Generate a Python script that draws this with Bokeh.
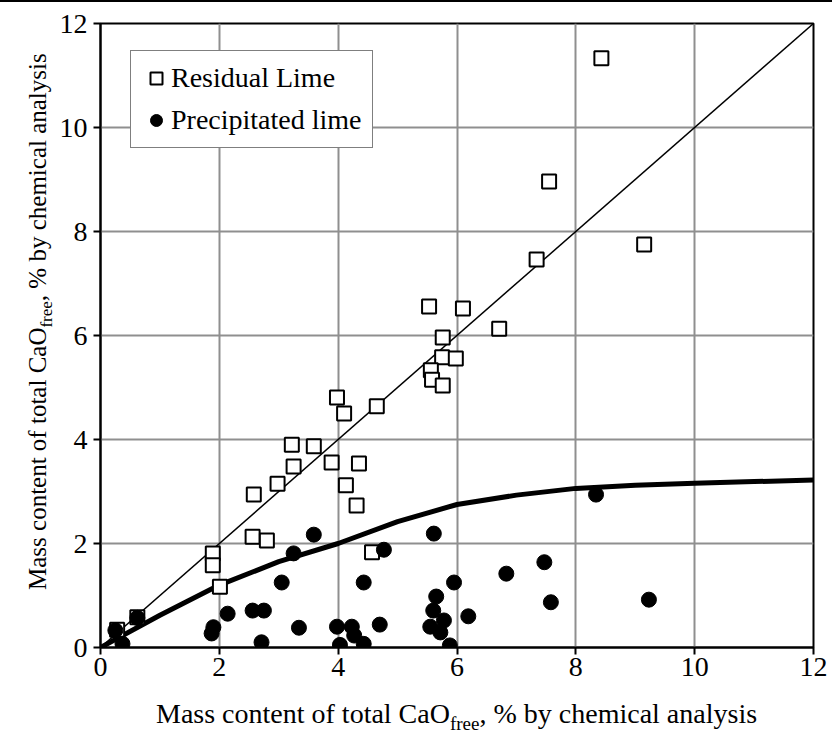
from bokeh.plotting import figure
from bokeh.models import FixedTicker, Legend, LegendItem, Div
from bokeh.layouts import column, row
from bokeh.embed import file_html
from bokeh.resources import INLINE

# ---- data ----
res_x = [8.43, 7.55, 9.15, 7.34, 6.71, 5.53, 6.10, 5.76, 5.75, 5.98, 5.56, 5.58, 5.76,
         4.65, 3.98, 4.10, 3.22, 3.59, 3.89, 4.35, 3.25, 2.98, 4.13, 2.58, 4.31, 2.56,
         2.80, 1.89, 1.89, 2.01, 4.57, 0.62, 0.28]
res_y = [11.33, 8.96, 7.75, 7.46, 6.13, 6.56, 6.52, 5.96, 5.58, 5.56, 5.33, 5.15, 5.04,
         4.64, 4.81, 4.50, 3.90, 3.87, 3.56, 3.54, 3.48, 3.15, 3.12, 2.94, 2.73, 2.13,
         2.06, 1.81, 1.58, 1.17, 1.83, 0.58, 0.34]

pre_x = [0.25, 0.37, 0.62, 1.87, 1.90, 2.14, 2.56, 2.71, 2.75, 3.05, 3.25, 3.34, 3.59,
         3.98, 4.03, 4.23, 4.27, 4.43, 4.43, 4.70, 4.77, 5.55, 5.60, 5.61, 5.65, 5.72,
         5.78, 5.88, 5.95, 6.19, 6.83, 7.47, 7.58, 8.34, 9.23]
pre_y = [0.33, 0.07, 0.57, 0.27, 0.39, 0.65, 0.71, 0.10, 0.71, 1.25, 1.81, 0.38, 2.17,
         0.40, 0.05, 0.40, 0.23, 0.07, 1.25, 0.44, 1.88, 0.40, 0.71, 2.19, 0.98, 0.29,
         0.52, 0.04, 1.25, 0.60, 1.42, 1.64, 0.87, 2.94, 0.92]

fit_x = [0, 1, 2, 3, 4, 5, 6, 7, 8, 9, 10, 11, 12]
fit_y = [0, 0.62, 1.20, 1.65, 2.00, 2.42, 2.75, 2.93, 3.06, 3.12, 3.16, 3.19, 3.22]

line_x = [0, 12]
line_y = [0, 12]

ticks = [0, 2, 4, 6, 8, 10, 12]

x_title = ("Mass content of total CaO", "free", ", % by chemical analysis")
y_title = ("Mass content of total CaO", "free", ", % by chemical analysis")

SERIF = "Liberation Serif"
FF = "font-family:'Liberation Serif', 'Times New Roman', serif !important;"

p = figure(width=776, height=690, x_range=(0, 12), y_range=(0, 12),
           output_backend="svg", toolbar_location=None,
           min_border_left=44, min_border_right=19, min_border_top=21,
           min_border_bottom=45)
p.background_fill_color = "white"
p.border_fill_color = "white"
p.outline_line_color = "black"
p.outline_line_width = 2

for ax in (p.xaxis, p.yaxis):
    ax.ticker = FixedTicker(ticks=ticks)
    ax.axis_line_color = "black"
    ax.axis_line_width = 2
    ax.major_tick_line_color = "black"
    ax.major_tick_line_width = 2
    ax.major_tick_out = 7
    ax.major_tick_in = 0
    ax.minor_tick_line_color = None
    ax.major_label_text_font = SERIF
    ax.major_label_text_font_size = "28px"
    ax.major_label_text_color = "black"
p.yaxis.major_label_standoff = 6
p.xaxis.major_label_standoff = 3

for g in (p.xgrid, p.ygrid):
    g.grid_line_color = "#8f8f8f"
    g.grid_line_width = 2

p.line(line_x, line_y, line_color="black", line_width=1.5)
p.line(fit_x, fit_y, line_color="black", line_width=5)

sq = p.scatter(res_x, res_y, marker="square", size=14, fill_color="white",
               line_color="black", line_width=2)
ci = p.scatter(pre_x, pre_y, marker="circle", size=15, fill_color="black",
               line_color="black")

legend = Legend(items=[LegendItem(label="Residual Lime", renderers=[sq]),
                       LegendItem(label="Precipitated lime", renderers=[ci])],
                location=(30, 499))
legend.label_text_font = SERIF
legend.label_text_font_size = "28px"
legend.label_text_color = "black"
legend.glyph_width = 30
legend.glyph_height = 34
legend.label_height = 34
legend.label_standoff = 0
legend.padding = 10
legend.spacing = 8
legend.margin = 0
legend.border_line_color = "black"
legend.border_line_width = 1.5
legend.background_fill_color = "white"
legend.background_fill_alpha = 1
p.add_layout(legend)


def title_html(parts, size, sub_size, sub_shift):
    main, sub, rest = parts
    return (f'<font face="Liberation Serif"><span style="{FF} font-size:{size}px;">{main}</span>'
            f'<span style="{FF} font-size:{sub_size}px; vertical-align:-{sub_shift}px; '
            f'line-height:0;">{sub}</span>'
            f'<span style="{FF} font-size:{size}px;">{rest}</span></font>')


# y-axis title (rotated HTML text with real subscript)
y_div = Div(
    width=56, height=690, margin=0,
    styles={"font-family": "'Liberation Serif', serif", "color": "black"},
    text=(
        '<div style="width:690px; height:56px; line-height:56px; padding-left:102px; '
        'box-sizing:border-box; white-space:nowrap; text-align:left; color:black; '
        f'{FF} font-size:25px; transform-origin:0 0; '
        'transform:translate(10px, 690px) rotate(-90deg);">'
        + title_html(y_title, 25, 17, 6) + '</div>'
    ),
)

# x-axis title
x_div = Div(
    width=832, height=48, margin=0,
    styles={"font-family": "'Liberation Serif', serif", "color": "black"},
    text=(
        '<div style="width:832px; height:48px; line-height:44px; padding-left:156px; '
        'box-sizing:border-box; white-space:nowrap; text-align:left; color:black; '
        f'{FF} font-size:28px;">'
        + title_html(x_title, 28, 19, 7) + '</div>'
    ),
)

top_rule = Div(width=832, height=2, styles={"background-color": "black"}, margin=0)
page = column(top_rule, row(y_div, p, spacing=0), x_div, spacing=0)

open("out.html", "w").write(file_html(page, INLINE))
